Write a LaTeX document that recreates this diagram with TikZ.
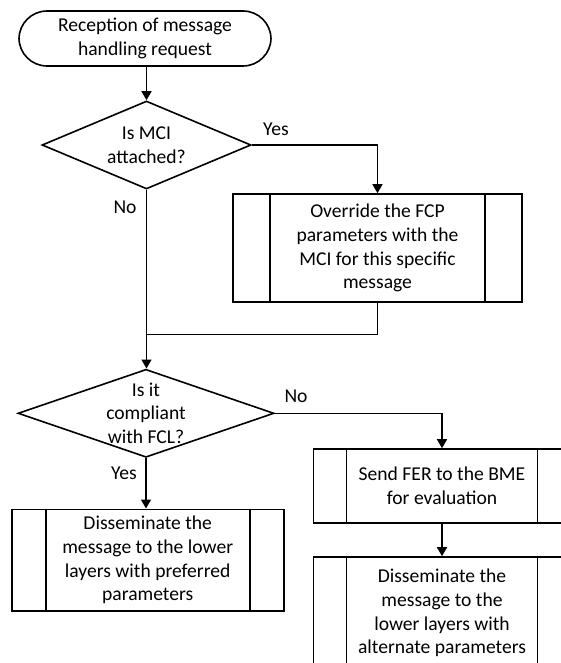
\documentclass[tikz,border=0pt]{standalone}
\usepackage{fontspec}
\setmainfont{Carlito}
\usetikzlibrary{arrows.meta,shapes.geometric}
\begin{document}
\begin{tikzpicture}[x=0.5pt,y=-0.5pt, line width=0.8pt,
    every node/.style={font=\fontsize{9.8}{11.9}\selectfont},
    >={Triangle[width=5pt,length=4.5pt]},
    term/.style={draw, rounded corners=14pt, minimum width=126pt, minimum height=27.5pt, align=center},
    dec/.style={draw, diamond, inner sep=0pt, minimum width=#1, minimum height=44pt},
    proc/.style={draw, rectangle, inner sep=0pt, align=center,
      path picture={\draw ([xshift=#1]path picture bounding box.north west) -- ([xshift=#1]path picture bounding box.south west)
        ([xshift=-#1]path picture bounding box.north east) -- ([xshift=-#1]path picture bounding box.south east);}},
    proc/.default=16.5pt]
  \useasboundingbox (0,0) rectangle (561,663);
  \clip (0,0) rectangle (561,663);
  \node[term] (A) at (145,38.5) {Reception of message\\handling request};
  \node[dec=104.5pt] (B) at (146.5,145) {};
  \node[align=center] (Bt) at (B) {Is MCI\\attached?};
  \node[proc=18.5pt, minimum width=144.5pt, minimum height=54pt] (C) at (377.5,248)
    {Override the FCP\\parameters with the\\MCI for this specific\\message};
  \coordinate (M) at (146.5,334.5);
  \node[dec=128pt] (D) at (146,413.3) {};
  \node[align=center] (Dt) at (D) {Is it\\compliant\\with FCL?};
  \node[proc=17pt, minimum width=136pt, minimum height=50.7pt] (E) at (147.7,560)
    {Disseminate the\\message to the lower\\layers with preferred\\parameters};
  \node[proc, minimum width=128.5pt, minimum height=37pt] (F) at (442,486)
    {Send FER to the BME\\for evaluation};
  \node[proc, minimum width=128.5pt, minimum height=56pt] (G) at (442,613)
    {Disseminate the\\message to the\\lower layers with\\alternate parameters};
  \node (yes1) at (276,129) {Yes};
  \node (no1) at (125,207) {No};
  \node (no2) at (296,396.7) {No};
  \node (yes2) at (124,473.3) {Yes};
  \draw[->] (A.south -| B) -- (B);
  \draw[->] (B.east) -| (C.north);
  \draw (C.south) |- (M);
  \draw[->] (B.south) -- (D.north -| B);
  \draw[->] (D.east) -| (F.north);
  \draw[->] (D.south) -- (E.north -| D);
  \draw[->] (F) -- (G);
\end{tikzpicture}
\end{document}
